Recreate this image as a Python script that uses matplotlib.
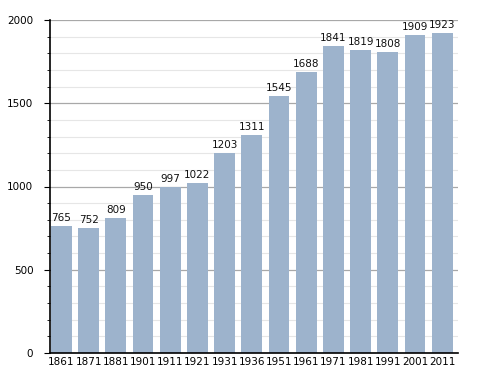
import matplotlib
matplotlib.use('Agg')
import matplotlib.pyplot as plt
from matplotlib.ticker import MultipleLocator

years = ['1861', '1871', '1881', '1901', '1911', '1921', '1931', '1936',
         '1951', '1961', '1971', '1981', '1991', '2001', '2011']
population = [765, 752, 809, 950, 997, 1022, 1203, 1311,
              1545, 1688, 1841, 1819, 1808, 1909, 1923]

fig = plt.figure(figsize=(4.88, 3.73), dpi=100)
ax = fig.add_axes([50 / 488, 20 / 373, 408 / 488, 333 / 373])

x = range(len(years))
bars = ax.bar(x, population, width=0.77, color='#9db3cc', zorder=3)

for i, v in enumerate(population):
    ax.text(i, v + 18, str(v), ha='center', va='bottom', fontsize=7.5, color='#111111')

ax.set_xlim(-0.42, 14.58)
ax.set_ylim(0, 2000)
ax.set_xticks(list(x))
ax.set_xticklabels(years, fontsize=7.5)
ax.tick_params(axis='x', length=0, pad=3)

ax.yaxis.set_major_locator(MultipleLocator(500))
ax.yaxis.set_minor_locator(MultipleLocator(100))
ax.tick_params(axis='y', which='major', length=4, labelsize=7.5, pad=8)
ax.tick_params(axis='y', which='minor', length=2.5)
ax.grid(axis='y', which='major', color='#a8a8a8', linewidth=0.9, zorder=0)
ax.grid(axis='y', which='minor', color='#e6e6e6', linewidth=0.8, zorder=0)

ax.spines['top'].set_visible(False)
ax.spines['right'].set_visible(False)
ax.spines['left'].set_linewidth(1.2)
ax.spines['bottom'].set_linewidth(1.2)
ax.spines['left'].set_zorder(4)
ax.spines['bottom'].set_zorder(4)

fig.savefig('out.png', dpi=100)
